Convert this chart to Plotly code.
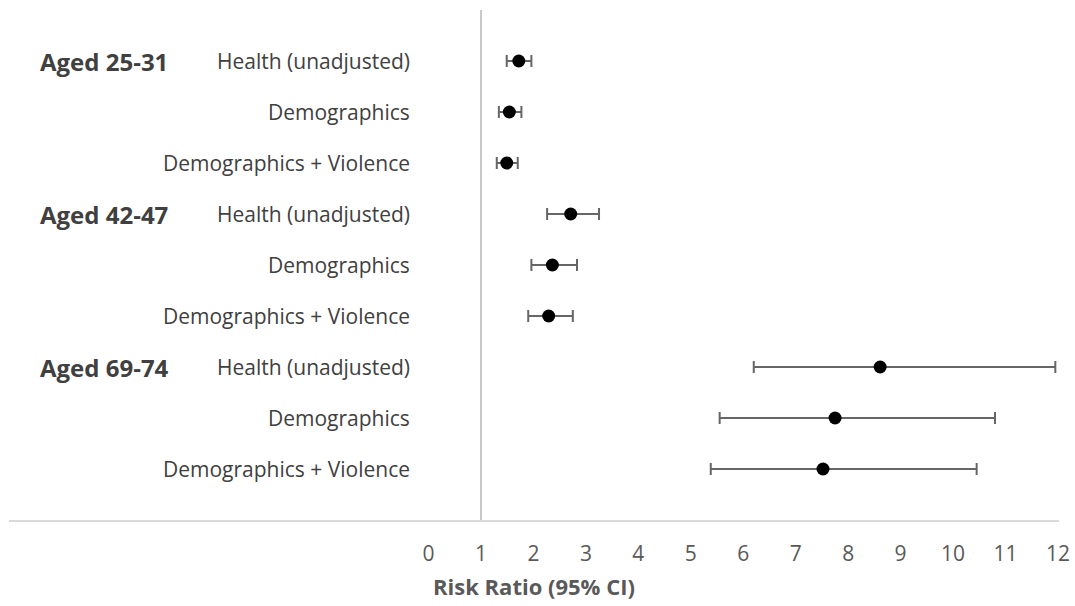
import plotly.graph_objects as go

# Age cohorts and adjustment models
groups = ["Aged 25-31", "Aged 42-47", "Aged 69-74"]
models = ["Health (unadjusted)", "Demographics", "Demographics + Violence"]

# Risk ratios with 95% confidence limits, in row order (cohort, then model)
rr = [1.72, 1.54, 1.49, 2.71, 2.36, 2.29, 8.61, 7.75, 7.52]
ci_lo = [1.49, 1.34, 1.30, 2.26, 1.96, 1.90, 6.20, 5.55, 5.38]
ci_hi = [1.96, 1.77, 1.70, 3.25, 2.83, 2.75, 11.95, 10.80, 10.45]

x_ticks = list(range(0, 13))

rows = list(range(1, len(rr) + 1))
err_plus = [h - v for h, v in zip(ci_hi, rr)]
err_minus = [v - l for v, l in zip(rr, ci_lo)]

FONT = "Open Sans"

fig = go.Figure()
fig.add_trace(go.Scatter(
    x=rr, y=rows, mode="markers",
    marker=dict(color="black", size=13),
    error_x=dict(type="data", symmetric=False, array=err_plus, arrayminus=err_minus,
                 color="#666666", thickness=2, width=6),
    hoverinfo="skip", showlegend=False,
))

# Null-effect reference line at RR = 1
fig.add_shape(type="line", x0=1, x1=1, y0=0, y1=10, xref="x", yref="y",
              line=dict(color="#C8C8C8", width=2), layer="below")

# Row labels: model names right-aligned, cohort names on each cohort's first row
for i, r in enumerate(rows):
    fig.add_annotation(x=-0.31, y=r, text=models[i % 3], showarrow=False,
                       xanchor="right", yanchor="middle", xref="x", yref="y",
                       font=dict(family=FONT, size=21, color="#404040"))
    if i % 3 == 0:
        fig.add_annotation(x=-7.45, y=r, text="<b>%s</b>" % groups[i // 3], showarrow=False,
                           xanchor="left", yanchor="middle", xref="x", yref="y",
                           font=dict(family=FONT, size=24, color="#404040"))

fig.update_layout(
    width=1075, height=606,
    margin=dict(l=9, r=16, t=10, b=86),
    plot_bgcolor="white", paper_bgcolor="white",
    font=dict(family=FONT),
    xaxis=dict(
        range=[-8, 12.02], tickmode="array", tickvals=x_ticks,
        ticktext=[str(t) for t in x_ticks],
        automargin=False,
        showgrid=False, zeroline=False,
        showline=True, linecolor="#D9D9D9", linewidth=2,
        ticks="", ticklabelstandoff=14,
        tickfont=dict(family=FONT, size=21, color="#595959"),
        title=dict(text="<b>Risk Ratio (95% CI)</b>", standoff=13,
                   font=dict(family=FONT, size=22, color="#595959")),
    ),
    yaxis=dict(range=[10, 0], showgrid=False, zeroline=False, showline=False,
               showticklabels=False, ticks="", automargin=False),
)

fig.write_html("out.html")
